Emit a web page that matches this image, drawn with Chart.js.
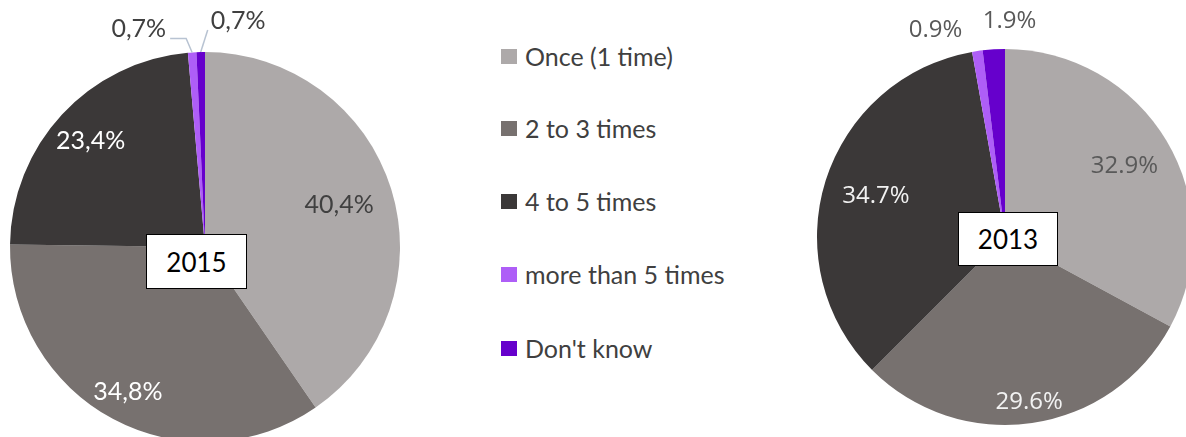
<!DOCTYPE html>
<html>
<head>
<meta charset="utf-8">
<script src="https://cdn.jsdelivr.net/npm/chart.js@4.4.0/dist/chart.umd.min.js"></script>
<style>
  html, body { margin: 0; padding: 0; width: 1186px; height: 437px; overflow: hidden; background: #fff; }
  .pie { position: absolute; top: 0; }
  #box2015 { left: 0; width: 410px; height: 500px; }
  #box2013 { left: 800px; width: 420px; height: 500px; filter: blur(0.4px); }
  .year { position: absolute; box-sizing: border-box; background: #fff; border: 1.5px solid #000;
          font: 26px Lato, sans-serif; color: #000; display: flex; align-items: center; justify-content: center; }
  #legend { position: absolute; left: 501px; top: 0; font: 25px Lato, sans-serif; color: #404040; }
  .item { position: absolute; left: 0; white-space: nowrap; display: flex; align-items: center; height: 30px; }
  .swatch { width: 16px; height: 15px; margin-right: 8px; }
</style>
</head>
<body>
<div class="pie" id="box2015"><canvas id="chart2015"></canvas></div>
<div class="pie" id="box2013"><canvas id="chart2013"></canvas></div>
<div class="year" style="left:146px;top:234px;width:101px;height:55px;">2015</div>
<div class="year" style="left:958px;top:212px;width:100px;height:54px;">2013</div>
<div id="legend"></div>
<script>
// Respuestas por categoría
const categories = ['Once (1 time)', '2 to 3 times', '4 to 5 times', 'more than 5 times', "Don't know"];
const values2015 = [40.4, 34.8, 23.4, 0.7, 0.7];
const values2013 = [32.9, 29.6, 34.7, 0.9, 1.9];
const colors = ['#ADA9A9', '#77716F', '#3B3838', '#AE5EF7', '#6600CC'];

// Etiquetas de porcentaje: dentro del sector o fuera con línea guía para los pequeños
const pieLabels = {
  id: 'pieLabels',
  afterDatasetsDraw(chart, args, opts) {
    const ctx = chart.ctx;
    const meta = chart.getDatasetMeta(0);
    const data = chart.data.datasets[0].data;
    ctx.save();
    ctx.font = opts.font;
    ctx.textBaseline = 'middle';
    meta.data.forEach((arc, i) => {
      const text = opts.format(data[i]);
      const mid = (arc.startAngle + arc.endAngle) / 2;
      const out = opts.outside[i];
      if (!out) {
        const r = arc.outerRadius * opts.inside[i];
        ctx.textAlign = 'center';
        ctx.fillStyle = opts.colors[i];
        ctx.fillText(text, arc.x + Math.cos(mid) * r, arc.y + Math.sin(mid) * r);
        return;
      }
      const ax = arc.x + Math.cos(mid) * arc.outerRadius;
      const ay = arc.y + Math.sin(mid) * arc.outerRadius;
      if (out.line) {
        ctx.strokeStyle = '#B8C3D2';
        ctx.lineWidth = 1.5;
        ctx.beginPath();
        ctx.moveTo(ax, ay);
        out.line.forEach(p => ctx.lineTo(ax + p[0], ay + p[1]));
        ctx.stroke();
      }
      ctx.textAlign = out.align;
      ctx.fillStyle = opts.outColor;
      ctx.fillText(text, ax + out.dx, ay + out.dy);
    });
    ctx.restore();
  }
};

function makePie(id, values, padding, labelOpts) {
  return new Chart(document.getElementById(id), {
    type: 'pie',
    data: {
      labels: categories,
      datasets: [{ data: values, backgroundColor: colors, borderWidth: 0 }]
    },
    options: {
      responsive: true,
      maintainAspectRatio: false,
      animation: false,
      events: [],
      layout: { padding: padding },
      plugins: {
        legend: { display: false },
        tooltip: { enabled: false },
        pieLabels: labelOpts
      }
    },
    plugins: [pieLabels]
  });
}

makePie('chart2015', values2015, { left: 10, right: 10, top: 52, bottom: 58 }, {
  font: '25px Lato, sans-serif',
  format: v => v.toFixed(1).replace('.', ',') + '%',
  inside: [0.72, 0.84, 0.80],
  colors: ['#404040', '#FFFFFF', '#FFFFFF'],
  outColor: '#404040',
  outside: [null, null, null,
    { dx: -26, dy: -23, align: 'right', line: [[-6, -14], [-22, -14]] },
    { dx: 10, dy: -31, align: 'left', line: [[7, -22]] }]
});

makePie('chart2013', values2013, { left: 17, right: 27, top: 49, bottom: 75 }, {
  font: '24px "Open Sans", sans-serif',
  format: v => v.toFixed(1) + '%',
  inside: [0.74, 0.89, 0.72],
  colors: ['#595959', '#F2F2F2', '#F2F2F2'],
  outColor: '#595959',
  outside: [null, null, null,
    { dx: -15, dy: -21, align: 'right' },
    { dx: -11, dy: -28, align: 'left' }]
});

// Leyenda común a los dos gráficos
const legend = document.getElementById('legend');
const legendTop = [41, 113, 186, 259, 333];
categories.forEach((name, i) => {
  const item = document.createElement('div');
  item.className = 'item';
  item.style.top = legendTop[i] + 'px';
  item.innerHTML = `<span class="swatch" style="background:${colors[i]}"></span><span>${name}</span>`;
  legend.appendChild(item);
});
</script>
</body>
</html>
